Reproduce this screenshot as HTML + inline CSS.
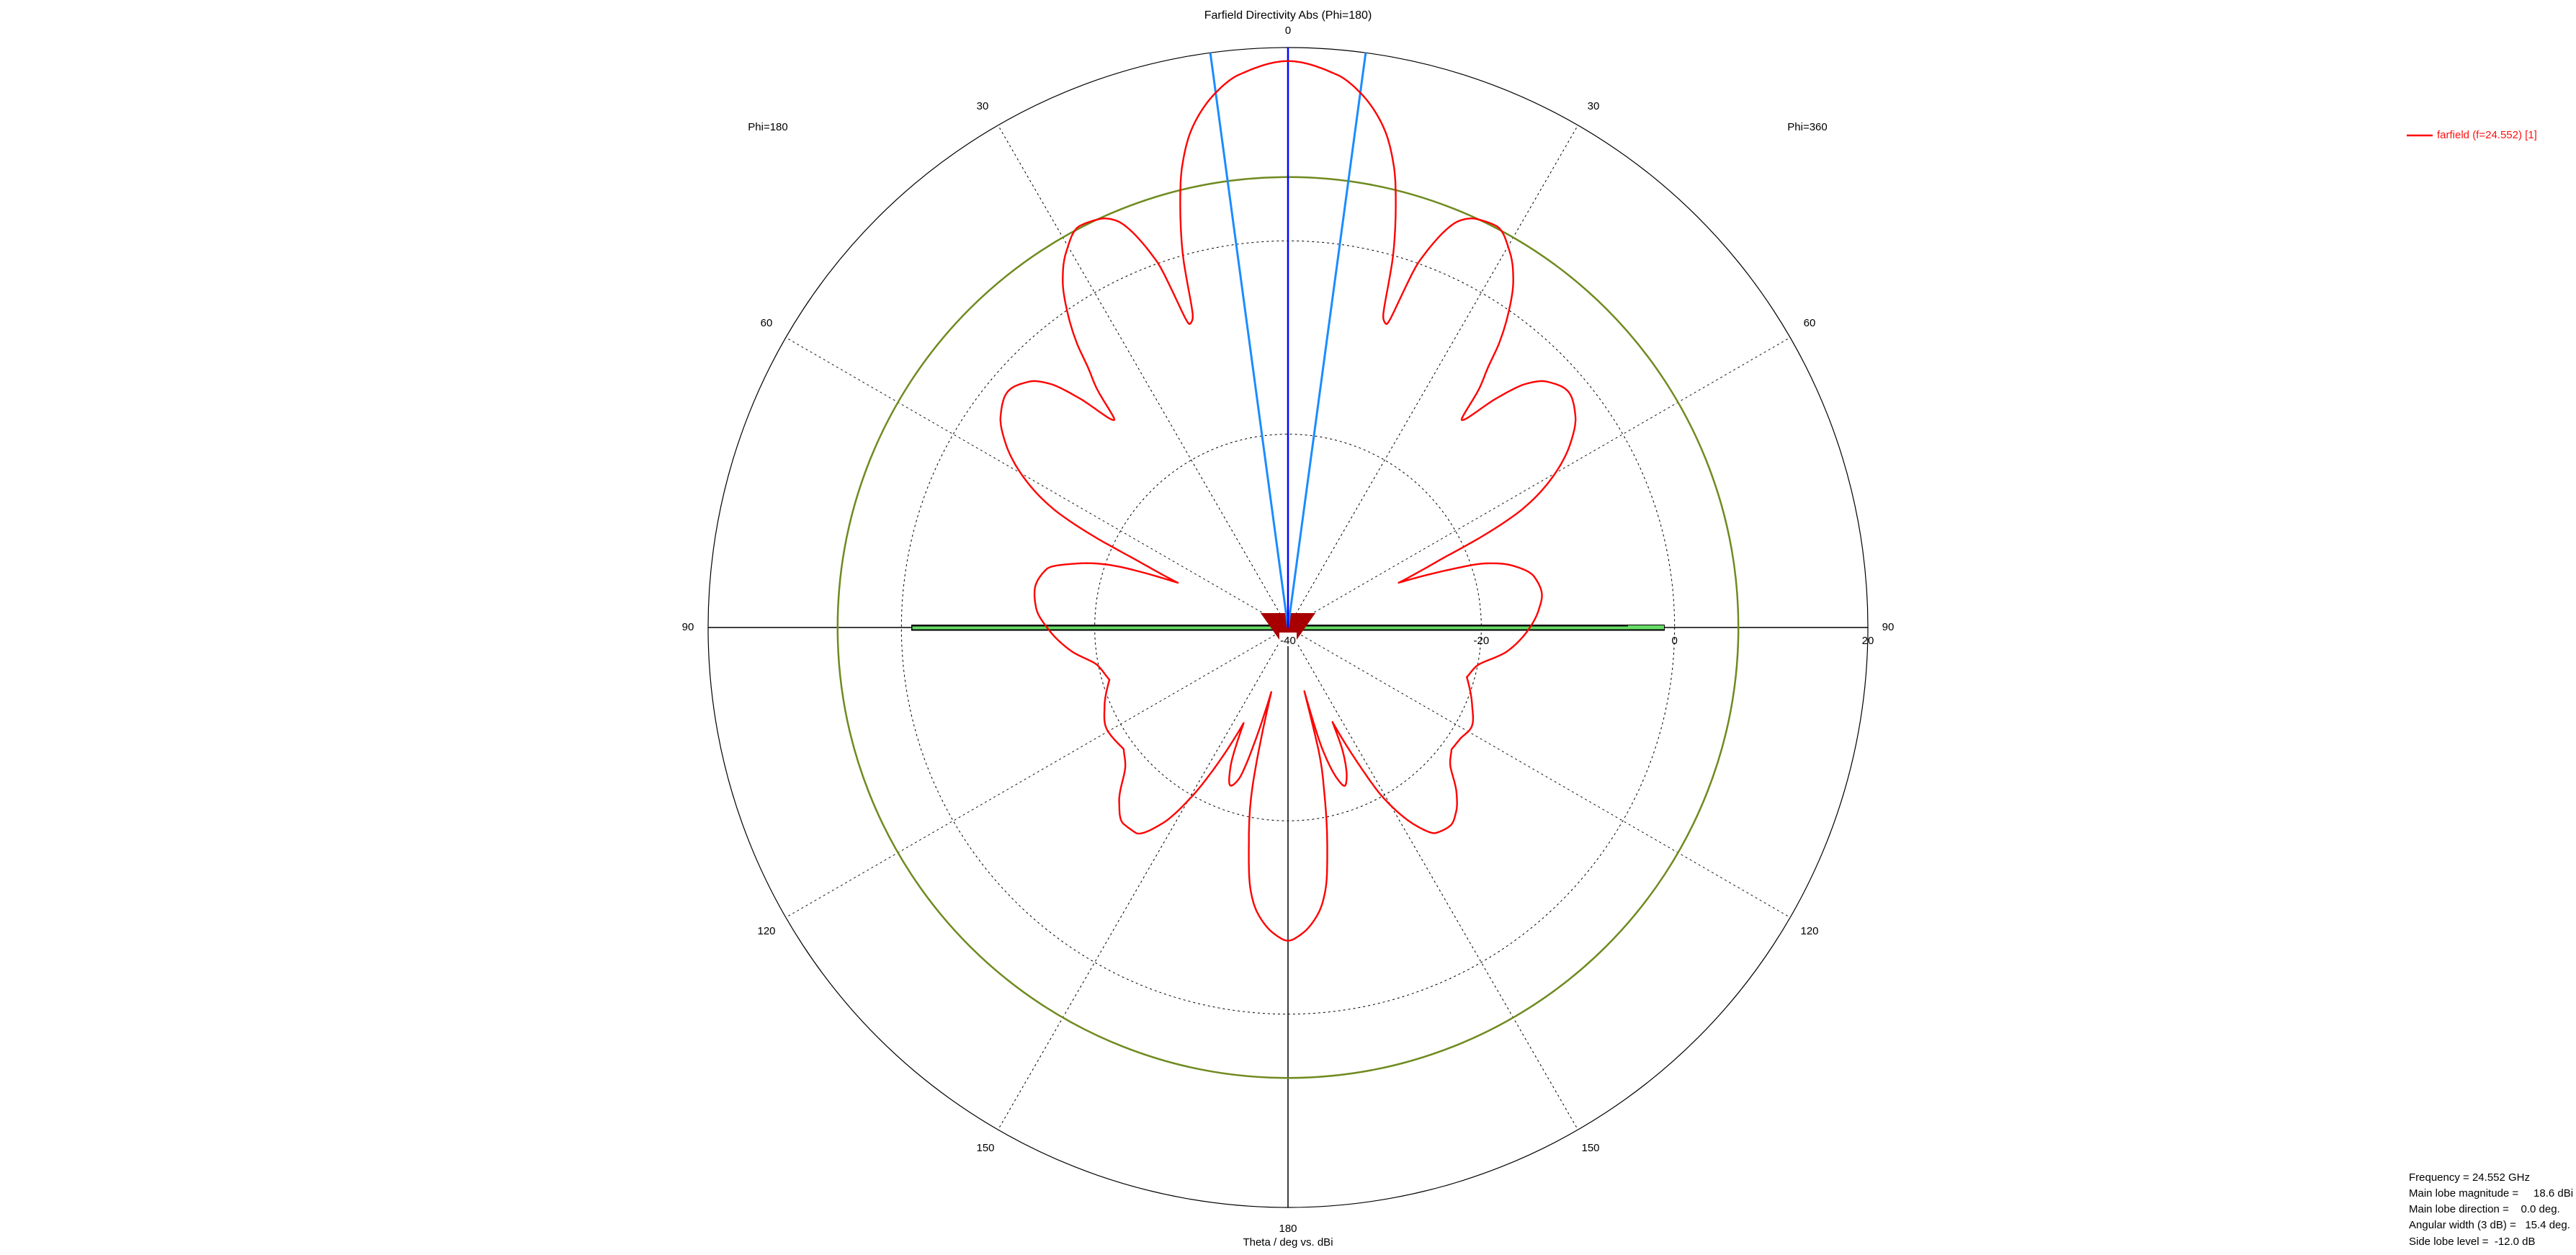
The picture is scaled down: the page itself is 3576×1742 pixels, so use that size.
<!DOCTYPE html>
<html><head><meta charset="utf-8"><style>
html,body{margin:0;padding:0;background:#fff;}
svg{display:block;}
text{font-family:"Liberation Sans",sans-serif;font-size:15px;fill:#000;}
</style></head><body>
<svg id="chart" width="3576" height="1742" viewBox="0 0 3576 1742" xmlns="http://www.w3.org/2000/svg">
<g id="grid"></g>
<g id="model"></g>
<g id="series"></g>
<g id="labels"></g>
<text x="1788" y="22" text-anchor="middle" dominant-baseline="middle" style="font-size:16px">Farfield Directivity Abs (Phi=180)</text>
<text x="1066" y="177" text-anchor="middle" dominant-baseline="middle">Phi=180</text>
<text x="2509" y="177" text-anchor="middle" dominant-baseline="middle">Phi=360</text>
<text x="1788" y="1725" text-anchor="middle" dominant-baseline="middle">Theta / deg vs. dBi</text>
<g>
<line x1="3341" y1="188" x2="3377" y2="188" stroke="#ff0000" stroke-width="2.5"/>
<text x="3383" y="188" dominant-baseline="middle" style="fill:#ff1010">farfield (f=24.552) [1]</text>
</g>
<g style="white-space:pre">
<text x="3344" y="1635" dominant-baseline="middle" xml:space="preserve">Frequency = 24.552 GHz</text>
<text x="3344" y="1657" dominant-baseline="middle" xml:space="preserve">Main lobe magnitude =     18.6 dBi</text>
<text x="3344" y="1679" dominant-baseline="middle" xml:space="preserve">Main lobe direction =    0.0 deg.</text>
<text x="3344" y="1701" dominant-baseline="middle" xml:space="preserve">Angular width (3 dB) =   15.4 deg.</text>
<text x="3344" y="1724" dominant-baseline="middle" xml:space="preserve">Side lobe level =  -12.0 dB</text>
</g>
</svg>
<script>
// ---- data ----
const rightTheta = [0,5.1,7.8,10.8,13,14.5,15.75,17.1,18,19.7,22.9,24.8,27.4,30.6,33.2,35.1,36.7,37.5,38.7,39.9,42.4,44.2,46.4,49.9,53.6,57,60.2,63.2,64.8,66,68,69.9,71.9,74.6,78.3,82.3,86,90.1,96,101.6,105.5,113,118.7,123.1,126.7,130,134.4,137.6,140.7,144.2,147,150.8,152.8,154.8,156,158.7,160.3,161.9,164.4,165.6,166,167.6,170,171.8,173.9,177.5,180];
const rightDb = [18.6,17.4,15.75,12.7,8.8,4.5,0.1,-6.5,-7,0.2,5.7,6.55,6.8,5.1,2.55,-0.4,-3.6,-5.9,-8.4,-12,-7.75,-4.9,-3.1,-2.1,-3.06,-5.2,-8.3,-12.8,-17.6,-22.7,-27.65,-23.2,-18.7,-15.9,-14,-13.5,-14,-15,-17.1,-20.1,-20.8,-19.3,-18.4,-18.8,-18.9,-18.1,-15.6,-14.2,-13.5,-13.8,-15.5,-19.9,-24.4,-29.2,-26.2,-23.3,-22.6,-23.5,-27.4,-33.2,-27,-22.5,-16.6,-12.7,-10.3,-8.25,-7.6];
const leftTheta = [0,5.1,7.8,10.8,13,14.5,15.75,17.1,18,19.7,22.9,24.8,27.4,30.6,33.2,35.1,36.7,37.5,38.7,39.9,42.4,44.2,46.4,49.9,53.6,57,60.2,63.2,64.8,66,67.9,70.7,73.5,76.4,81.2,85.5,90.7,96.1,101.2,106.3,113.2,119.5,126.5,130.4,135.9,140.1,143.4,147.3,150.5,152.8,155.1,157.5,160,162,165.5,167.6,169.9,171.8,173.9,177.5,180];
const leftDb = [18.6,17.4,15.75,12.7,8.8,4.5,0.1,-6.5,-7,0.2,5.7,6.55,6.8,5.1,2.55,-0.4,-3.6,-5.9,-8.4,-12,-7.75,-4.9,-3.1,-2.1,-3.06,-5.2,-8.3,-12.8,-17.6,-22.7,-27.7,-20.4,-16.8,-14.3,-13.5,-13.85,-15.3,-17.4,-19.9,-20.75,-19.35,-18.5,-18.85,-17.9,-14.9,-13.5,-13.55,-15.9,-20.1,-24.4,-29.1,-24.5,-22.6,-23.5,-33.1,-22.5,-16.9,-12.7,-10.3,-8.25,-7.6];
const angleTicks = [0,30,60,90,120,150,180];
const radialTicks = [-40,-20,0,20];
const gridCircles = [-20,0];
const mainLobeDir = 0;
const beamWidth = 15.4;
const sideLobeLevel = 6.6; // main lobe 18.6 - 12.0

// ---- scales ----
const CX = 1788, CY = 871, R = 805, DMIN = -40, DMAX = 20;
const NS = 'http://www.w3.org/2000/svg';
function rScale(db){ return (Math.max(db, DMIN) - DMIN) / (DMAX - DMIN) * R; }
function pt(theta, db, side){
  const a = theta * Math.PI / 180, r = rScale(db);
  return [CX + side * r * Math.sin(a), CY - r * Math.cos(a)];
}
function mk(tag, attrs, parent){
  const e = document.createElementNS(NS, tag);
  for (const k in attrs) e.setAttribute(k, attrs[k]);
  parent.appendChild(e);
  return e;
}
const grid = document.getElementById('grid');
const labels = document.getElementById('labels');
const series = document.getElementById('series');
const model = document.getElementById('model');

let c = mk('circle', {cx:CX, cy:CY, r:R, fill:'none', stroke:'#000', 'stroke-width':1.2}, grid);


gridCircles.forEach(function(v){
  const e = mk('circle', {cx:CX, cy:CY, r:rScale(v), fill:'none', stroke:'#000', 'stroke-width':1, 'stroke-dasharray':'3,4'}, grid);
  
  
});
[30,60,120,150].forEach(function(t){
  [1,-1].forEach(function(s){
    const p = pt(t, DMAX, s);
    const e = mk('line', {x1:CX, y1:CY, x2:p[0], y2:p[1], stroke:'#000', 'stroke-width':1, 'stroke-dasharray':'3,4'}, grid);
    
    
  });
});
let hx = mk('line', {x1:CX-R, y1:CY, x2:CX+R, y2:CY, stroke:'#000', 'stroke-width':1.5}, grid);


let vx = mk('line', {x1:CX, y1:CY, x2:CX, y2:CY+R, stroke:'#000', 'stroke-width':1.5}, grid);



let sl = mk('circle', {cx:CX, cy:CY, r:rScale(sideLobeLevel), fill:'none', stroke:'#6f8a1f', 'stroke-width':2.5}, grid);



let barB = mk('rect', {x:1265, y:867, width:1046, height:8.5, fill:'#000'}, model);


let barG = mk('rect', {x:1266.5, y:869.5, width:1043, height:4, fill:'#66dd66'}, model);


let barG2 = mk('rect', {x:2260, y:868, width:50, height:5.5, fill:'#66dd66'}, model);


let trap = mk('polygon', {points:'1750,851 1826,851 1800,888 1776,888', fill:'#a80000'}, model);



function ray(theta, color, w, name){
  const s = theta >= 0 ? 1 : -1;
  const p = pt(Math.abs(theta), DMAX, s);
  const e = mk('line', {x1:CX, y1:CY, x2:p[0], y2:p[1], stroke:color, 'stroke-width':w}, series);
  
  
}
ray(mainLobeDir - beamWidth/2, '#1a8cff', 3, 'beamwidth-line-left');
ray(mainLobeDir + beamWidth/2, '#1a8cff', 3, 'beamwidth-line-right');
ray(mainLobeDir, '#0000ff', 2.5, 'main-lobe-direction-line');

// pattern curve: monotone cubic Hermite in (theta,dB), sharp at nulls
function sampleSide(th, db, side){
  const n = th.length, sec = [];
  for (let i = 0; i < n-1; i++) sec.push((db[i+1]-db[i])/(th[i+1]-th[i]));
  const out = [];
  for (let i = 0; i < n-1; i++){
    // slope at start (i) and end (i+1) for this segment
    function slopeAt(j, segSide){
      if (j === 0 || j === n-1) return 0;
      const a = sec[j-1], b = sec[j];
      const isNull = a < 0 && b > 0 && db[j] < -15;
      if (isNull) return segSide === 'start' ? b : a;
      if (a*b <= 0) return 0;
      return 2/(1/a + 1/b);
    }
    const m0 = slopeAt(i, 'start'), m1 = slopeAt(i+1, 'end');
    const h = th[i+1]-th[i];
    const steps = Math.max(2, Math.ceil(h / 0.2));
    for (let k = 0; k < steps; k++){
      const t = k/steps, t2=t*t, t3=t2*t;
      const v = (2*t3-3*t2+1)*db[i] + (t3-2*t2+t)*h*m0 + (-2*t3+3*t2)*db[i+1] + (t3-t2)*h*m1;
      out.push(pt(th[i] + t*h, v, side));
    }
  }
  out.push(pt(th[n-1], db[n-1], side));
  return out;
}
const leftPts = sampleSide(leftTheta, leftDb, -1).reverse();
const rightPts = sampleSide(rightTheta, rightDb, 1);
const all = leftPts.concat(rightPts);
let d = 'M' + all.map(function(p){ return p[0].toFixed(1) + ',' + p[1].toFixed(1); }).join(' L');
let curve = mk('path', {d:d, fill:'none', stroke:'#ff0000', 'stroke-width':2.4, 'stroke-linejoin':'round'}, series);



angleTicks.forEach(function(t){
  const sides = (t === 0 || t === 180) ? [1] : [1,-1];
  sides.forEach(function(s){
    let x, y;
    if (t === 0){ x = CX; y = 43; }
    else if (t === 180){ x = CX; y = 1706; }
    else if (t === 90){ x = CX + s*(R + 28); y = CY; }
    else if (t === 30 || t === 150){ x = CX + s*(t===30?424:420); y = t===30?148:1594; }
    else { x = CX + s*724; y = t===60?449:1293; }
    const e = mk('text', {x:x, y:y, 'text-anchor':'middle', 'dominant-baseline':'middle'}, labels);
    e.textContent = String(t);
    
    
  });
});
radialTicks.forEach(function(v){
  const x = CX + rScale(v);
  if (v === DMIN){
    const bg = mk('rect', {x:x-12, y:878, width:24, height:19, fill:'#fff'}, labels);
    
    
  }
  const e = mk('text', {x:x, y:890, 'text-anchor':'middle', 'dominant-baseline':'middle'}, labels);
  e.textContent = String(v);
  
  
});
</script>
</body></html>
